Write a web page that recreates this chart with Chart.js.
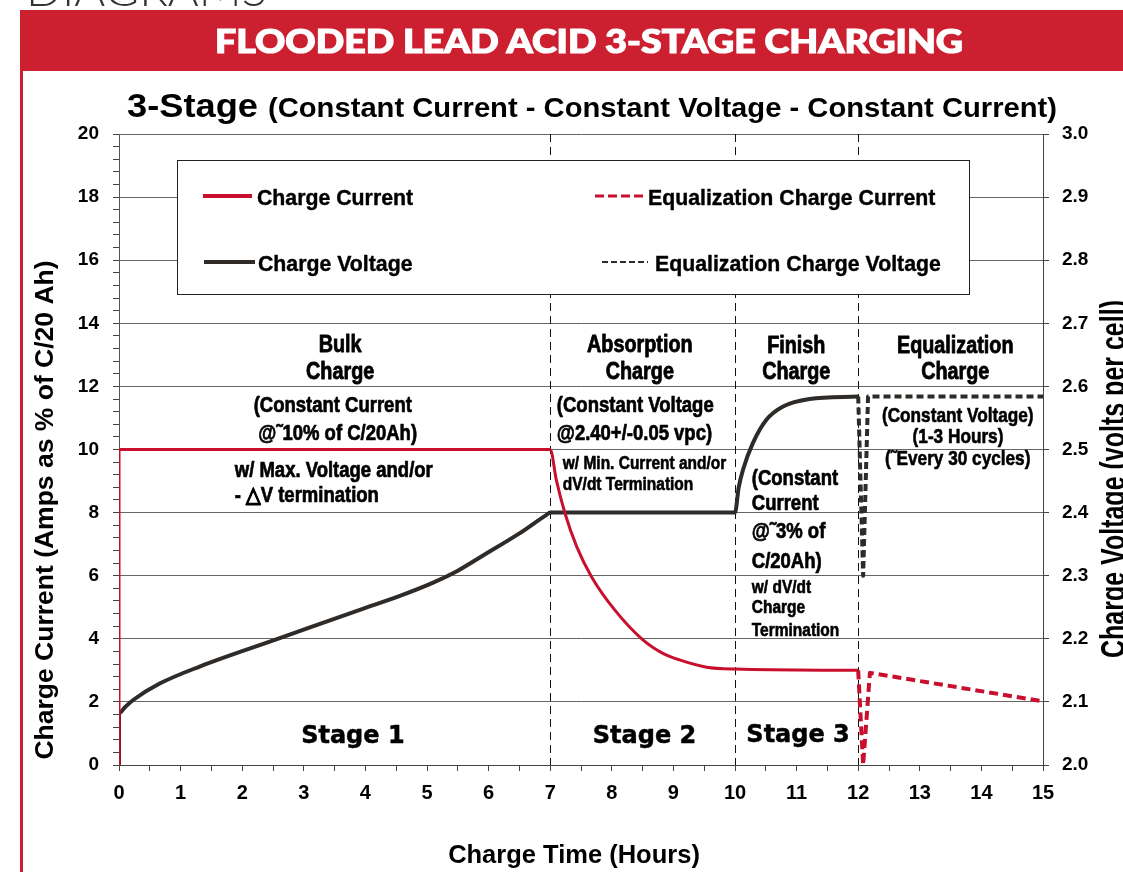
<!DOCTYPE html>
<html>
<head>
<meta charset="utf-8">
<title>Flooded Lead Acid 3-Stage Charging</title>
<script src="https://cdn.jsdelivr.net/npm/chart.js@4.4.1/dist/chart.umd.min.js"></script>
<style>
  html, body { margin: 0; padding: 0; background: #fff; overflow: hidden; }
  #wrap { position: relative; width: 1123px; height: 872px; }
  #chart { position: absolute; left: 0; top: 0; }
  #deco { position: absolute; left: 0; top: 0; pointer-events: none; }
</style>
</head>
<body>
<div id="wrap">
  <canvas id="chart" width="1123" height="872"></canvas>
  <svg id="deco" width="1123" height="872" xmlns="http://www.w3.org/2000/svg">
    <text x="26" y="6" font-family="Lato, 'Open Sans', sans-serif" font-weight="300" font-size="46" fill="#333" textLength="241" lengthAdjust="spacingAndGlyphs">DIAGRAMS</text>
    <rect x="20" y="10" width="1103" height="61" fill="#cc1f30"/>
    <rect x="20" y="71" width="3" height="801" fill="#cc1f30"/>
    <text x="215" y="53" font-family="Lato, Inter, 'Open Sans', sans-serif" font-weight="900" font-size="32" fill="#fff" stroke="#fff" stroke-width="1.2" textLength="748" lengthAdjust="spacingAndGlyphs">FLOODED LEAD ACID 3-STAGE CHARGING</text>
    <text x="127" y="117" font-family="'Liberation Sans', Arial, sans-serif" font-weight="bold" font-size="33" fill="#000" textLength="131" lengthAdjust="spacingAndGlyphs">3-Stage</text>
    <text x="268" y="117" font-family="'Liberation Sans', Arial, sans-serif" font-weight="bold" font-size="28.5" fill="#000" textLength="789" lengthAdjust="spacingAndGlyphs">(Constant Current - Constant Voltage - Constant Current)</text>
  </svg>
</div>
<script>
// charge current, % of C/20 Ah (left axis)
var currentHours  = [0, 0, 7, 7.1, 7.24, 7.43, 7.67, 8.05, 8.51, 8.83, 9.1, 9.54, 10, 12]
var currentValues = [0, 10, 10, 9.03, 7.98, 6.92, 5.97, 4.91, 3.96, 3.54, 3.33, 3.1, 3.04, 3.0]

var eqCurrentHours  = [12, 12.08, 12.19, 15]
var eqCurrentValues = [3.0, 0, 2.92, 2.02]

// charge voltage, volts per cell (right axis)
var voltageHours  = [0, 0, 0.1, 0.23, 0.66, 1.31, 2.61, 3.91, 4.56, 5.1, 5.5, 5.91, 6.5, 6.94, 7, 10, 10.06, 10.13, 10.29, 10.51, 10.78, 11.21, 12]
var voltageValues = [2.0, 2.082, 2.092, 2.103, 2.129, 2.156, 2.201, 2.246, 2.268, 2.289, 2.308, 2.332, 2.367, 2.3965, 2.4, 2.4, 2.44, 2.468, 2.51, 2.547, 2.568, 2.58, 2.584]

var eqVoltageHours  = [12, 12.08, 12.16, 15]
var eqVoltageValues = [2.584, 2.30, 2.584, 2.584]

var stageBounds = [7, 10, 12]
var seriesNames = ['Charge Current', 'Equalization Charge Current', 'Charge Voltage', 'Equalization Charge Voltage']

// text notes placed in (hours, current) units
var notes = [
  ['Bulk', 3.59, 13.09, 'head', 'center'],
  ['Charge', 3.59, 12.22, 'head', 'center'],
  ['(Constant Current', 3.47, 11.19, 'body', 'center'],
  ['@\u02DC10% of C/20Ah)', 3.55, 10.30, 'body', 'center'],
  ['w/ Max. Voltage and/or', 1.88, 9.14, 'body', 'left'],
  ['- \u25B3V termination', 1.88, 8.35, 'body', 'left'],
  ['Absorption', 8.455, 13.10, 'head', 'center'],
  ['Charge', 8.455, 12.22, 'head', 'center'],
  ['(Constant Voltage', 7.108, 11.20, 'body', 'left'],
  ['@2.40+/-0.05 vpc)', 7.108, 10.30, 'body', 'left'],
  ['w/ Min. Current and/or', 7.205, 9.37, 'small', 'left'],
  ['dV/dt Termination', 7.205, 8.72, 'small', 'left'],
  ['Finish', 10.995, 13.05, 'head', 'center'],
  ['Charge', 10.995, 12.22, 'head', 'center'],
  ['(Constant', 10.273, 8.87, 'body', 'left'],
  ['Current', 10.273, 8.08, 'body', 'left'],
  ['@\u02DC3% of', 10.273, 7.19, 'body', 'left'],
  ['C/20Ah)', 10.273, 6.24, 'body', 'left'],
  ['w/ dV/dt', 10.273, 5.44, 'small', 'left'],
  ['Charge', 10.273, 4.81, 'small', 'left'],
  ['Termination', 10.273, 4.09, 'small', 'left'],
  ['Equalization', 13.575, 13.05, 'head', 'center'],
  ['Charge', 13.575, 12.22, 'head', 'center'],
  ['(Constant Voltage)', 13.616, 10.88, 'eq', 'center'],
  ['(1-3 Hours)', 13.62, 10.20, 'eq', 'center'],
  ['(\u02DCEvery 30 cycles)', 13.616, 9.51, 'eq', 'center'],
  ['Stage 1', 3.797, 0.71, 'stage', 'center'],
  ['Stage 2', 8.531, 0.71, 'stage', 'center'],
  ['Stage 3', 11.024, 0.74, 'stage', 'center']
]

var RED = '#c8102e'
var DARK = '#2e2b28'
var SANS = '"Liberation Sans", Arial, sans-serif'
var noteFonts = {
  head: ['bold 23px ' + SANS, 0.86, 0.8],
  body: ['bold 21.5px ' + SANS, 0.86, 0.7],
  small: ['bold 18px ' + SANS, 0.86, 0.6],
  eq: ['bold 20px ' + SANS, 0.86, 0.6],
  stage: ['bold 24px "DejaVu Sans", sans-serif', 1, 0.5]
}

function toXY(xs, ys) {
  return xs.map((x, i) => ({ x: x, y: ys[i] }))
}

function isMajor(v) {
  return Math.abs(v / 2 - Math.round(v / 2)) < 1e-6
}

function drawText(ctx, text, x, y, font, sx, align, heavy) {
  ctx.save()
  ctx.font = font
  ctx.translate(x, y)
  ctx.scale(sx, 1)
  ctx.textAlign = align
  ctx.textBaseline = 'alphabetic'
  ctx.fillStyle = '#000'
  ctx.fillText(text, 0, 0)
  if (heavy) {
    // a thin outline makes the narrow type look as heavy as the original
    ctx.strokeStyle = '#000'
    ctx.lineWidth = heavy
    ctx.lineJoin = 'round'
    ctx.strokeText(text, 0, 0)
  }
  ctx.restore()
}

var extras = {
  id: 'extras',
  beforeDatasetsDraw(chart) {
    var ctx = chart.ctx, a = chart.chartArea, xs = chart.scales.x
    ctx.save()
    ctx.strokeStyle = '#111'
    ctx.lineWidth = 1
    ctx.setLineDash([8, 5])
    stageBounds.forEach(h => {
      var px = Math.round(xs.getPixelForValue(h)) + 0.5
      ctx.beginPath()
      ctx.moveTo(px, a.top)
      ctx.lineTo(px, a.bottom)
      ctx.stroke()
    })
    ctx.restore()
  },
  afterDatasetsDraw(chart) {
    var ctx = chart.ctx, xs = chart.scales.x, ys = chart.scales.y
    notes.forEach(n => {
      var f = noteFonts[n[3]]
      drawText(ctx, n[0], xs.getPixelForValue(n[1]), ys.getPixelForValue(n[2]), f[0], f[1], n[4], f[2])
    })
  },
  afterDraw(chart) {
    var ctx = chart.ctx
    // legend box
    ctx.save()
    ctx.fillStyle = '#fff'
    ctx.fillRect(177.5, 160.5, 792, 134)
    ctx.strokeStyle = '#222'
    ctx.lineWidth = 1
    ctx.strokeRect(177.5, 160.5, 792, 134)
    var items = [
      [0, 203, 252, 196, 257, 205, 4, []],
      [1, 595, 647, 196, 648, 205, 3, [9, 4]],
      [2, 204, 255, 262, 258, 271, 4, []],
      [3, 602, 648, 262, 655, 271, 2, [6, 3]]
    ]
    items.forEach(it => {
      var ds = chart.data.datasets[it[0]]
      ctx.strokeStyle = ds.borderColor
      ctx.lineWidth = it[6]
      ctx.setLineDash(it[7])
      ctx.beginPath()
      ctx.moveTo(it[1], it[3])
      ctx.lineTo(it[2], it[3])
      ctx.stroke()
      ctx.setLineDash([])
      drawText(ctx, ds.label, it[4], it[5], 'bold 21.5px ' + SANS, 0.99, 'left', 0.4)
    })
    ctx.restore()

    // axis titles
    ctx.save()
    ctx.fillStyle = '#000'
    ctx.translate(53, 510)
    ctx.rotate(-Math.PI / 2)
    ctx.font = 'bold 26.5px ' + SANS
    ctx.textAlign = 'center'
    ctx.fillText('Charge Current (Amps as % of C/20 Ah)', 0, 0)
    ctx.restore()

    ctx.save()
    ctx.fillStyle = '#000'
    ctx.translate(1125, 479)
    ctx.rotate(-Math.PI / 2)
    ctx.scale(1, 1.4)
    ctx.font = 'bold 25px ' + SANS
    ctx.textAlign = 'center'
    ctx.fillText('Charge Voltage (volts per cell)', 0, 0)
    ctx.restore()

    drawText(ctx, 'Charge Time (Hours)', 574, 863, 'bold 25.5px ' + SANS, 1, 'center')
  }
}

var tickFont = { family: SANS, weight: 'bold', size: 19 }

new Chart(document.getElementById('chart'), {
  type: 'line',
  data: {
    datasets: [
      { label: seriesNames[0], data: toXY(currentHours, currentValues), borderColor: RED, borderWidth: 3, yAxisID: 'y' },
      { label: seriesNames[1], data: toXY(eqCurrentHours, eqCurrentValues), borderColor: RED, borderWidth: 4, borderDash: [9, 5],
        cubicInterpolationMode: 'default', tension: 0, yAxisID: 'y' },
      { label: seriesNames[2], data: toXY(voltageHours, voltageValues), borderColor: DARK, borderWidth: 4, yAxisID: 'y2' },
      { label: seriesNames[3], data: toXY(eqVoltageHours, eqVoltageValues), borderColor: DARK, borderWidth: 4, borderDash: [7, 4],
        cubicInterpolationMode: 'default', tension: 0, yAxisID: 'y2' }
    ]
  },
  options: {
    responsive: false,
    animation: false,
    layout: { padding: { top: 134, left: 0, right: 0, bottom: 0 } },
    elements: {
      point: { radius: 0 },
      line: { cubicInterpolationMode: 'monotone', borderCapStyle: 'butt', borderJoinStyle: 'round', fill: false }
    },
    plugins: { legend: { display: false }, tooltip: { enabled: false } },
    scales: {
      x: {
        type: 'linear', min: 0, max: 15,
        afterFit: s => { s.height = 107 },
        ticks: { stepSize: 0.5, autoSkip: false, maxRotation: 0, padding: 10, color: '#000', font: { family: SANS, weight: 'bold', size: 20 },
          callback: v => Number.isInteger(v) ? v : '' },
        grid: { color: 'rgba(0,0,0,0)', tickColor: '#444', tickLength: 6 },
        border: { color: '#444', width: 1 }
      },
      y: {
        position: 'left', min: 0, max: 20,
        afterFit: s => { s.width = 119 },
        ticks: { stepSize: 0.4, autoSkip: false, padding: 14, color: '#000', font: tickFont,
          callback: v => isMajor(v) ? Math.round(v) : '' },
        grid: { color: c => isMajor(c.tick.value) ? '#666' : 'rgba(0,0,0,0)', tickColor: '#444', tickLength: 6 },
        border: { color: '#555', width: 1 }
      },
      y2: {
        position: 'right', min: 2, max: 3,
        afterFit: s => { s.width = 80 },
        ticks: { stepSize: 0.1, autoSkip: false, padding: 13, color: '#000', font: tickFont,
          callback: v => v.toFixed(1) },
        grid: { drawOnChartArea: false, tickColor: '#444', tickLength: 6 },
        border: { color: '#444', width: 1 }
      }
    }
  },
  plugins: [extras]
})
</script>
</body>
</html>
